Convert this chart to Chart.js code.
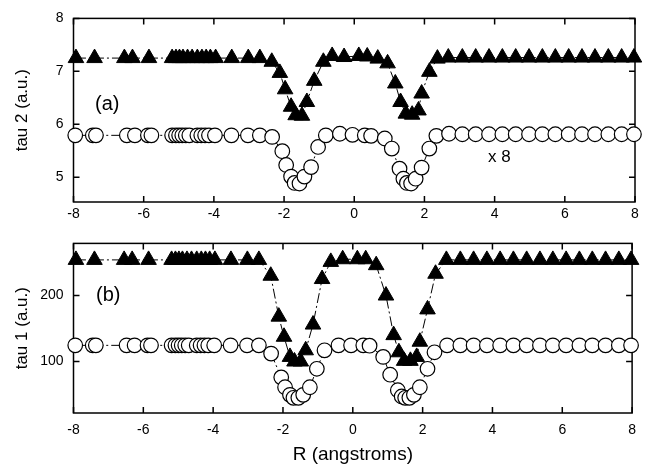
<!DOCTYPE html>
<html>
<head>
<meta charset="utf-8">
<script src="https://cdn.jsdelivr.net/npm/chart.js@4.4.1/dist/chart.umd.min.js"></script>
<style>
  html, body { margin: 0; padding: 0; background: #fff; }
  #wrap { position: relative; width: 645px; height: 466px; }
  #top { position: absolute; left: 0; top: 0; }
  #bottom { position: absolute; left: 0; top: 225px; }
</style>
</head>
<body>
<div id="wrap">
  <div id="top" style="width:645px;height:225px"><canvas id="tauTwo"></canvas></div>
  <div id="bottom" style="width:645px;height:241px"><canvas id="tauOne"></canvas></div>
</div>
<script>
// positions along R (angstroms), open circles
const xCircles = [
  -7.95, -7.45, -7.36, -6.48, -6.25, -5.88, -5.78, -5.19, -5.08, -4.99, -4.90, -4.80, -4.70,
  -4.47, -4.36, -4.25, -4.14, -3.97, -3.50, -3.03, -2.69,
  -2.34, -2.05, -1.94, -1.80, -1.70, -1.56, -1.42, -1.23, -1.03, -0.81,
  -0.41, -0.05, 0.30, 0.48, 0.87,
  1.07, 1.29, 1.40, 1.50, 1.62, 1.75, 1.92, 2.14, 2.34,
  2.70, 3.08, 3.46, 3.84, 4.22, 4.60, 4.98, 5.36, 5.73, 6.11, 6.49, 6.86, 7.24, 7.62, 7.97
];
// positions along R, filled triangles
const xTriangles = [
  -7.93, -7.40, -6.55, -6.32, -5.85, -5.19, -5.08, -4.98, -4.88, -4.75, -4.62, -4.47,
  -4.34, -4.22, -4.10, -3.95, -3.49, -3.02, -2.69,
  -2.35, -2.12, -1.97, -1.80, -1.67, -1.49, -1.35, -1.14, -0.88, -0.63,
  -0.29, 0.13, 0.37, 0.67,
  0.95, 1.17, 1.32, 1.47, 1.65, 1.83, 1.92, 2.14, 2.37,
  2.68, 3.08, 3.46, 3.84, 4.22, 4.60, 4.98, 5.36, 5.73, 6.11, 6.49, 6.86, 7.24, 7.62, 7.97
];

// panel (a): tau 2
const tau2Circles = [
  5.79, 5.79, 5.79, 5.79, 5.79, 5.79, 5.79, 5.79, 5.79, 5.79, 5.79, 5.79, 5.79,
  5.79, 5.79, 5.79, 5.79, 5.79, 5.79, 5.79, 5.79,
  5.76, 5.49, 5.23, 5.01, 4.89, 4.88, 5.01, 5.19, 5.57, 5.79,
  5.82, 5.80, 5.79, 5.78, 5.73,
  5.54, 5.16, 4.97, 4.89, 4.88, 4.97, 5.18, 5.54, 5.78,
  5.82, 5.81, 5.81, 5.81, 5.81, 5.81, 5.81, 5.81, 5.81, 5.81, 5.81, 5.81, 5.81, 5.81, 5.81
];
const tau2Triangles = [
  7.25, 7.25, 7.25, 7.25, 7.25, 7.25, 7.25, 7.25, 7.25, 7.25, 7.25, 7.25,
  7.25, 7.25, 7.25, 7.25, 7.25, 7.25, 7.25,
  7.18, 6.97, 6.66, 6.33, 6.17, 6.16, 6.42, 6.82, 7.18, 7.29,
  7.27, 7.29, 7.28, 7.24,
  7.15, 6.77, 6.42, 6.20, 6.18, 6.26, 6.58, 6.99, 7.24,
  7.26, 7.26, 7.26, 7.26, 7.26, 7.26, 7.26, 7.26, 7.26, 7.26, 7.26, 7.26, 7.26, 7.26, 7.26
];

// panel (b): tau 1
const tau1Circles = [
  124.5, 124.5, 124.5, 124.5, 124.5, 124.5, 124.5, 124.5, 124.5, 124.5, 124.5, 124.5, 124.5,
  124.5, 124.5, 124.5, 124.5, 124.5, 124.5, 124.5, 124.5,
  112, 76, 61, 49.5, 45, 45, 49.5, 61, 89, 117,
  124.5, 124.5, 124.5, 124, 107,
  80, 56.5, 47, 45, 45, 49.5, 61, 89, 114,
  124.5, 124.5, 124.5, 124.5, 124.5, 124.5, 124.5, 124.5, 124.5, 124.5, 124.5, 124.5, 124.5, 124.5, 124.5
];
const tau1Triangles = [
  254, 254, 254, 254, 254, 254, 254, 254, 254, 254, 254, 254,
  254, 254, 254, 254, 254, 254, 254,
  230, 168, 137.5, 107, 100, 100, 117, 156, 225, 251,
  255, 255, 255, 246,
  200, 140, 114, 101, 101, 107, 130, 179, 233,
  254, 254, 254, 254, 254, 254, 254, 254, 254, 254, 254, 254, 254, 254, 254
];

const xTicks = [-8, -6, -4, -2, 0, 2, 4, 6, 8];
const tau2Ticks = [5, 6, 7, 8];
const tau1Ticks = [100, 200];

const FONT = "'Liberation Sans', Arial, Helvetica, sans-serif";

const pairUp = (xs, ys) => xs.map((x, i) => ({ x: x, y: ys[i] }));

// box round the plot area plus inward tick marks on all four sides
const frameTicks = {
  id: 'frameTicks',
  beforeDatasetsDraw(chart) {
    const { ctx, chartArea: a, scales } = chart;
    const len = 6;
    ctx.save();
    ctx.strokeStyle = '#000';
    ctx.lineWidth = 1.5;
    ctx.strokeRect(a.left, a.top, a.right - a.left, a.bottom - a.top);
    ctx.beginPath();
    scales.x.ticks.forEach(t => {
      const px = scales.x.getPixelForValue(t.value);
      ctx.moveTo(px, a.bottom); ctx.lineTo(px, a.bottom - len);
      ctx.moveTo(px, a.top); ctx.lineTo(px, a.top + len);
    });
    scales.y.ticks.forEach(t => {
      const py = scales.y.getPixelForValue(t.value);
      ctx.moveTo(a.left, py); ctx.lineTo(a.left + len, py);
      ctx.moveTo(a.right, py); ctx.lineTo(a.right - len, py);
    });
    ctx.stroke();
    ctx.restore();
  }
};

// panel letters and the "x 8" note
const notes = {
  id: 'notes',
  afterDraw(chart, args, opts) {
    const { ctx } = chart;
    ctx.save();
    ctx.fillStyle = '#000';
    ctx.textBaseline = 'middle';
    ctx.textAlign = 'left';
    (opts.items || []).forEach(it => {
      ctx.font = it.size + 'px ' + FONT;
      ctx.fillText(it.text, it.x, it.y);
    });
    ctx.restore();
  }
};

function makePanel(canvasId, circleYs, triangleYs, yMin, yMax, yTickVals, yTitle, opts) {
  const ctx = document.getElementById(canvasId).getContext('2d');
  return new Chart(ctx, {
    type: 'scatter',
    data: {
      datasets: [
        {
          label: 'triangles',
          data: pairUp(xTriangles, triangleYs),
          showLine: true,
          borderColor: '#000',
          borderWidth: 1,
          borderDash: [10, 3, 2, 3],
          tension: 0,
          pointStyle: 'triangle',
          pointRadius: 9,
          pointBackgroundColor: '#000',
          pointBorderColor: '#000',
          pointBorderWidth: 1,
          clip: false,
        },
        {
          label: 'circles',
          data: pairUp(xCircles, circleYs),
          showLine: true,
          borderColor: '#000',
          borderWidth: 1,
          borderDash: [10, 3, 2, 3],
          tension: 0,
          pointStyle: 'circle',
          pointRadius: 7.3,
          pointBackgroundColor: '#fff',
          pointBorderColor: '#000',
          pointBorderWidth: 1.2,
          clip: false,
        },
      ],
    },
    options: {
      responsive: true,
      maintainAspectRatio: false,
      animation: false,
      layout: { padding: { top: opts.padTop, right: 0, left: 0, bottom: 0 } },
      plugins: {
        legend: { display: false },
        tooltip: { enabled: false },
        notes: { items: opts.notes },
      },
      scales: {
        x: {
          type: 'linear',
          min: -8,
          max: 8,
          afterBuildTicks: (scale) => { scale.ticks = xTicks.map(v => ({ value: v })); },
          grid: { display: false, drawTicks: false },
          border: { display: false },
          ticks: {
            color: '#000',
            padding: opts.xPad,
            maxRotation: 0,
            font: { family: FONT, size: 14 },
            callback: (v) => String(v),
          },
          title: {
            display: !!opts.xTitle,
            text: opts.xTitle || '',
            color: '#000',
            font: { family: FONT, size: 19 },
            padding: { top: 0, bottom: 0 },
          },
          afterFit: (scale) => { scale.height = opts.xHeight; },
        },
        y: {
          type: 'linear',
          min: yMin,
          max: yMax,
          afterBuildTicks: (scale) => { scale.ticks = yTickVals.map(v => ({ value: v })); },
          grid: { display: false, drawTicks: false },
          border: { display: false },
          ticks: {
            color: '#000',
            padding: 10,
            font: { family: FONT, size: 14 },
            callback: (v) => String(v),
          },
          title: {
            display: true,
            text: yTitle,
            color: '#000',
            font: { family: FONT, size: 17 },
            padding: { top: 12, bottom: 0 },
          },
          afterFit: (scale) => { scale.width = 73.5; },
        },
      },
    },
    plugins: [frameTicks, notes],
  });
}

makePanel('tauTwo', tau2Circles, tau2Triangles, 4.53, 8, tau2Ticks, 'tau 2 (a.u.)', {
  padTop: 18, xPad: 4, xHeight: 23,
  notes: [
    { text: '(a)', x: 95, y: 104, size: 20 },
    { text: 'x 8', x: 488, y: 157, size: 17 },
  ],
});

makePanel('tauOne', tau1Circles, tau1Triangles, 22, 279, tau1Ticks, 'tau 1 (a.u.)', {
  padTop: 3, xPad: 9, xHeight: 53, xTitle: 'R (angstroms)',
  notes: [
    { text: '(b)', x: 96, y: 70, size: 20 },
  ],
});
</script>
</body>
</html>
